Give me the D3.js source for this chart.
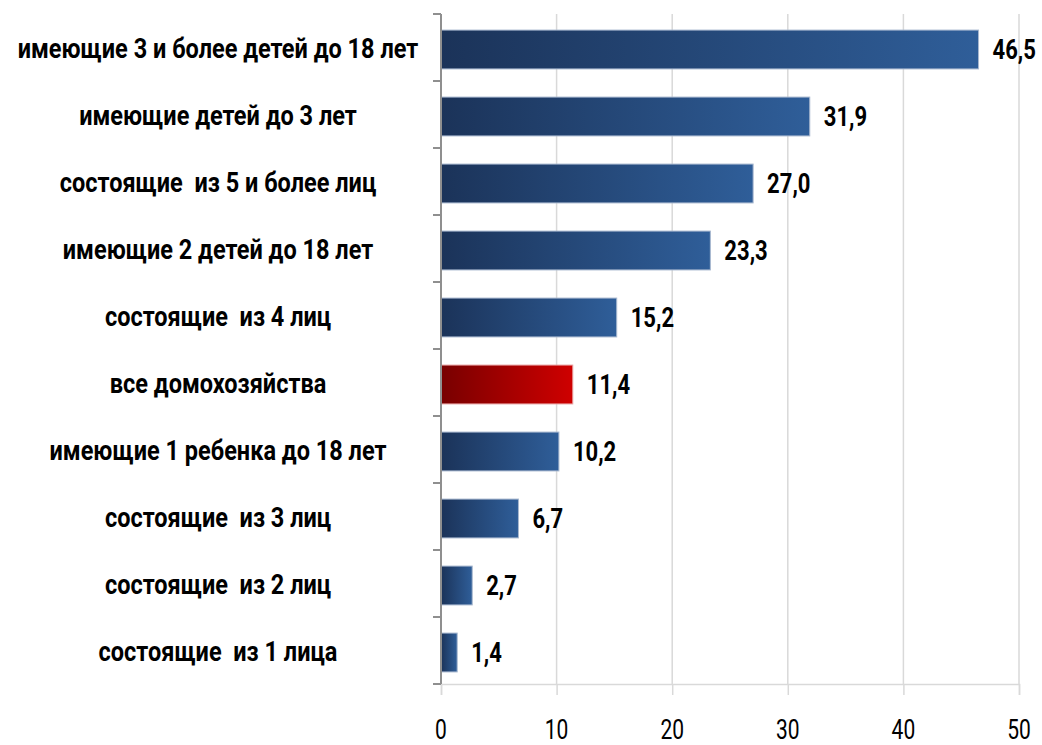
<!DOCTYPE html>
<html>
<head>
<meta charset="utf-8">
<script src="https://cdn.jsdelivr.net/npm/d3@7"></script>
<style>
  body { margin: 0; background: #fff; }
  svg { display: block; }
  .cat { font-family: Roboto, "Liberation Sans", sans-serif; font-weight: 700; fill: #000; }
  .val { font-family: Roboto, "Liberation Sans", sans-serif; font-weight: 700; fill: #000; }
  .tick-label { font-family: Roboto, "Liberation Sans", sans-serif; font-weight: 400; fill: #000; }
</style>
</head>
<body>
<svg id="chart" width="1042" height="745"></svg>
<script>
// categories from top to bottom
var categories = [
  "имеющие 3 и более детей до 18 лет",
  "имеющие детей до 3 лет",
  "состоящие  из 5 и более лиц",
  "имеющие 2 детей до 18 лет",
  "состоящие  из 4 лиц",
  "все домохозяйства",
  "имеющие 1 ребенка до 18 лет",
  "состоящие  из 3 лиц",
  "состоящие  из 2 лиц",
  "состоящие  из 1 лица"
];
var values = [46.5, 31.9, 27.0, 23.3, 15.2, 11.4, 10.2, 6.7, 2.7, 1.4];
var highlight = "все домохозяйства";
var xTicks = [0, 10, 20, 30, 40, 50];

var svg = d3.select("#chart");

var scaleX = d3.scaleLinear().domain([0, 50]).range([441, 1019]);
var scaleY = d3.scaleBand().domain(categories).range([14, 684])
  .paddingInner(0.42).paddingOuter(0.21);

// gradients
var defs = svg.append("defs");
function addGrad(id, c1, c2){
  var g = defs.append("linearGradient").attr("id", id)
    .attr("x1", "0%").attr("x2", "100%").attr("y1", "0%").attr("y2", "0%");
  g.append("stop").attr("offset", "0%").attr("stop-color", c1);
  g.append("stop").attr("offset", "100%").attr("stop-color", c2);
}
addGrad("blueGrad", "#1b3359", "#2f5e99");
addGrad("redGrad", "#780000", "#cf0000");

// vertical gridlines
svg.append("g")
  .selectAll("line")
  .data(xTicks.slice(1))
  .enter()
  .append("line")
    .attr("x1", d => scaleX(d)).attr("x2", d => scaleX(d))
    .attr("y1", 14).attr("y2", 684)
    .style("stroke", "#d9d9d9").style("stroke-width", 1.5);

// bottom axis
var xAxis = svg.append("g")
  .attr("transform", "translate(0,684)")
  .call(d3.axisBottom(scaleX).tickValues(xTicks).tickSize(11).tickFormat(""));
xAxis.select(".domain").style("stroke", "#d9d9d9").style("stroke-width", 1.5);
xAxis.selectAll(".tick line").style("stroke", "#d9d9d9").style("stroke-width", 1.5);

svg.append("g")
  .selectAll("text")
  .data(xTicks)
  .enter()
  .append("text")
    .attr("class", "tick-label")
    .attr("text-anchor", "middle")
    .attr("font-size", "20px")
    .attr("transform", d => "translate(" + scaleX(d) + ",739) scale(1.05,1.35)")
    .text(d => d);

// bars
svg.append("g")
  .selectAll("rect")
  .data(categories)
  .enter()
  .append("rect")
    .attr("x", scaleX(0))
    .attr("y", d => scaleY(d) + 2)
    .attr("width", (d, i) => scaleX(values[i]) - scaleX(0))
    .attr("height", scaleY.bandwidth())
    .style("fill", d => d == highlight ? "url(#redGrad)" : "url(#blueGrad)")
    .style("stroke", d => d == highlight ? "#e8a0a0" : "#a8b8cf")
    .style("stroke-width", 1);

// left axis
var yAxisG = svg.append("g");
yAxisG.append("line")
  .attr("x1", scaleX(0)).attr("x2", scaleX(0))
  .attr("y1", 14).attr("y2", 684)
  .style("stroke", "#8f8f8f").style("stroke-width", 2);
yAxisG.selectAll(".ytick")
  .data(d3.range(categories.length + 1))
  .enter()
  .append("line")
    .attr("class", "ytick")
    .attr("x1", scaleX(0) - 8).attr("x2", scaleX(0))
    .attr("y1", i => 14 + i * scaleY.step())
    .attr("y2", i => 14 + i * scaleY.step())
    .style("stroke", "#8f8f8f").style("stroke-width", 2);

// category labels
svg.append("g")
  .selectAll("text")
  .data(categories)
  .enter()
  .append("text")
    .attr("class", "cat")
    .attr("text-anchor", "middle")
    .attr("font-size", "21px")
    .attr("transform", d => "translate(218," + (scaleY(d) + scaleY.bandwidth() / 2 + 10) + ") scale(1.12,1.3)")
    .style("white-space", "pre")
    .text(d => d);

// value labels
svg.append("g")
  .selectAll("text")
  .data(categories)
  .enter()
  .append("text")
    .attr("class", "val")
    .attr("font-size", "21px")
    .attr("transform", (d, i) => "translate(" + (scaleX(values[i]) + 14) + "," + (scaleY(d) + scaleY.bandwidth() / 2 + 11) + ") scale(1.05,1.3)")
    .text((d, i) => d3.format(".1f")(values[i]).replace(".", ","));
</script>
</body>
</html>
